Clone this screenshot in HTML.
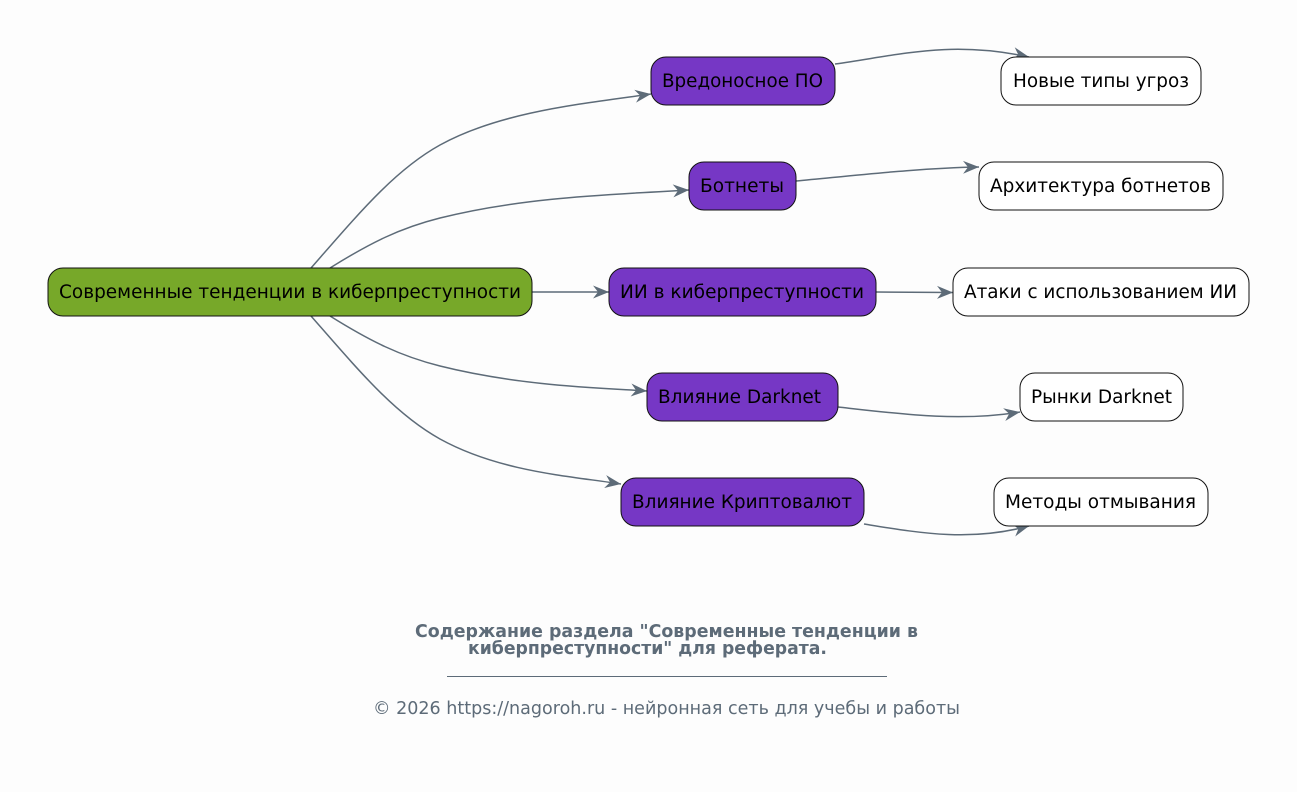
<!DOCTYPE html>
<html><head><meta charset="utf-8"><style>
html,body{margin:0;padding:0;background:#fdfdfd;}
svg{display:block;}
text{font-family:"DejaVu Sans","Liberation Sans",sans-serif;}
</style></head><body>
<svg width="1297" height="792" viewBox="0 0 1297 792" xmlns="http://www.w3.org/2000/svg">
<defs>
<marker id="a" markerUnits="userSpaceOnUse" markerWidth="18" markerHeight="14" refX="16" refY="7" orient="auto">
<path d="M0,0.5 L16,7 L0,13.5 L5,7 Z" fill="#5d6b78"/>
</marker>
</defs>
<rect width="1297" height="792" fill="#fdfdfd"/>
<g fill="none" stroke="#5d6b78" stroke-width="1.5" marker-end="url(#a)">
<path d="M311,268 C360,212 395,170 440,145 C500,112 580,104 651,94"/>
<path d="M330,268 C370,243 400,228 440,218 C520,198 600,195 689,190"/>
<path d="M532,292 L609,292"/>
<path d="M330,316 C370,341 400,356 440,366 C520,386 600,388 647,391"/>
<path d="M311,316 C360,372 395,414 440,439 C500,472 570,476 621,484"/>
<path d="M835,64 C900,55 950,40 1029,57"/>
<path d="M796,181 C860,175 920,168 979,167"/>
<path d="M876,292 L953,292.5"/>
<path d="M838,407 C900,414 960,422 1020,412"/>
<path d="M864,524 C920,533 970,542 1029,526"/>
</g>
<g stroke="#111" stroke-width="1">
<rect x="48" y="268" width="484" height="48" rx="15" fill="#77a829"/>
<rect x="651" y="57" width="184" height="48" rx="15" fill="#7637c5"/>
<rect x="689" y="162" width="107" height="48" rx="15" fill="#7637c5"/>
<rect x="609" y="268" width="267" height="48" rx="15" fill="#7637c5"/>
<rect x="647" y="373" width="191" height="48" rx="15" fill="#7637c5"/>
<rect x="621" y="478" width="243" height="48" rx="15" fill="#7637c5"/>
<rect x="1001" y="57" width="200" height="48" rx="15" fill="#fff"/>
<rect x="979" y="162" width="244" height="48" rx="15" fill="#fff"/>
<rect x="953" y="268" width="296" height="48" rx="15" fill="#fff"/>
<rect x="1020" y="373" width="163" height="48" rx="15" fill="#fff"/>
<rect x="994" y="478" width="214" height="48" rx="15" fill="#fff"/>
</g>
<g font-size="18.5" fill="#000" text-anchor="middle" lengthAdjust="spacingAndGlyphs">
<text x="290" y="298" textLength="462" lengthAdjust="spacingAndGlyphs">Современные тенденции в киберпреступности</text>
<text x="742.5" y="87" textLength="161" lengthAdjust="spacingAndGlyphs">Вредоносное ПО</text>
<text x="742" y="192" textLength="84" lengthAdjust="spacingAndGlyphs">Ботнеты</text>
<text x="742" y="298" textLength="244" lengthAdjust="spacingAndGlyphs">ИИ в киберпреступности</text>
<text x="739.5" y="403" textLength="163" lengthAdjust="spacingAndGlyphs">Влияние Darknet</text>
<text x="742" y="508" textLength="220" lengthAdjust="spacingAndGlyphs">Влияние Криптовалют</text>
<text x="1101" y="87" textLength="176" lengthAdjust="spacingAndGlyphs">Новые типы угроз</text>
<text x="1100.5" y="192" textLength="221" lengthAdjust="spacingAndGlyphs">Архитектура ботнетов</text>
<text x="1100.5" y="298" textLength="273" lengthAdjust="spacingAndGlyphs">Атаки с использованием ИИ</text>
<text x="1101.5" y="403" textLength="141" lengthAdjust="spacingAndGlyphs">Рынки Darknet</text>
<text x="1100.5" y="508" textLength="191" lengthAdjust="spacingAndGlyphs">Методы отмывания</text>
</g>
<g fill="#5d6b78" text-anchor="middle">
<text x="666.5" y="637" font-size="17.4" font-weight="bold" textLength="503" lengthAdjust="spacingAndGlyphs">Содержание раздела "Современные тенденции в</text>
<text x="647.5" y="654" font-size="17.4" font-weight="bold" textLength="359" lengthAdjust="spacingAndGlyphs">киберпреступности" для реферата.</text>
<line x1="447" y1="676.5" x2="887" y2="676.5" stroke="#5d6b78" stroke-width="1"/>
<text x="666.5" y="714" font-size="17.5" textLength="587" lengthAdjust="spacingAndGlyphs">© 2026 https://nagoroh.ru - нейронная сеть для учебы и работы</text>
</g>
</svg>
</body></html>
